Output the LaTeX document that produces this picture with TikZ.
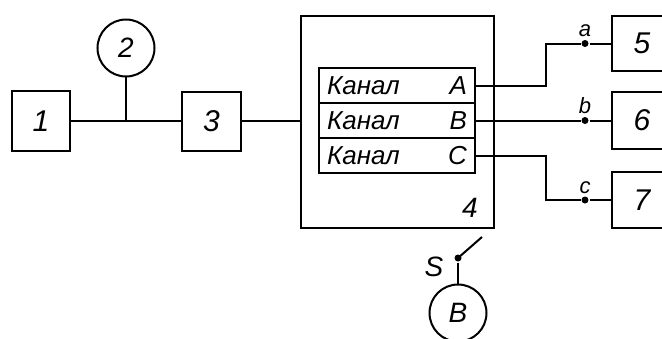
\documentclass[tikz,border=0pt]{standalone}
\usepackage{fontspec}
\setmainfont{Liberation Sans}
\begin{document}
\begin{tikzpicture}[x=1pt,y=-1pt,line width=2pt,
  blk/.style={draw,inner sep=0pt,outer sep=0pt,font=\fontsize{30}{32}\selectfont\itshape},
  gauge/.style={draw,circle,minimum size=57pt,inner sep=0pt,outer sep=0pt,font=\fontsize{28}{30}\selectfont\itshape},
  row/.style={draw,minimum width=156pt,minimum height=35pt,text width=140pt,inner sep=0pt,outer sep=0pt,font=\fontsize{26}{28}\selectfont\itshape},
  dot/.style={circle,fill,minimum size=7pt,inner sep=0pt},
  tag/.style={font=\fontsize{22}{24}\selectfont\itshape,inner sep=1pt},
  txt/.style={font=\fontsize{28}{30}\selectfont\itshape,inner sep=0pt}]
\useasboundingbox (0,0) rectangle (662,338);

% left part
\node[blk,minimum width=58pt,minimum height=60pt] (box1) at (41,121) {1};
\node[blk,minimum width=59pt,minimum height=59pt] (box3) at (211.5,121) {3};
\node[gauge] (gauge2) at (126,48) {2};
\draw (box1) -- (box3);
\draw (gauge2) -- (gauge2 |- box1);

% unit 4 with channels
\node[blk,minimum width=193pt,minimum height=212pt] (unit4) at (397.5,122) {};
\node[txt] (lbl4) at (470,208) {4};
\foreach \c [count=\i] in {A,B,C}
	\node[row] (ch\c) at (397,{50.5+35*\i}) {Канал\hfill\c};
\draw (box3.east) -- (box3.east -| unit4.west);

% outputs
\node[blk,minimum width=60pt,minimum height=55pt] (box5) at (642,43.5) {5};
\node[blk,minimum width=60pt,minimum height=57pt] (box6) at (642,120.5) {6};
\node[blk,minimum width=60pt,minimum height=56pt] (box7) at (642,200) {7};
\node[dot,label={[tag]above:a}] (pa) at (585,43.5) {};
\node[dot,label={[tag]above:b}] (pb) at (585,120.5) {};
\node[dot,label={[tag]above:c}] (pc) at (585,200) {};
\draw (chA.east) -- ++(71,0) |- (pa) -- (box5.west);
\draw (chB.east) -- (pb) -- (box6.west);
\draw (chC.east) -- ++(71,0) |- (pc) -- (box7.west);

% switch and meter
\node[dot] (sw) at (458,258) {};
\coordinate (swtip) at (482,237);
\node[txt] (lblS) at (434,267) {S};
\node[gauge] (meterB) at (458,313) {B};
\draw (sw.center) -- (swtip);
\draw (sw) -- (meterB);

\end{tikzpicture}
\end{document}
